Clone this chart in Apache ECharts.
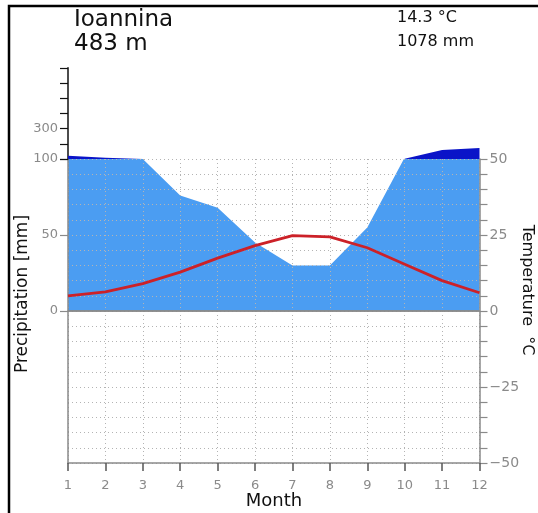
<!DOCTYPE html>
<html>
<head>
<meta charset="utf-8">
<script src="https://cdn.jsdelivr.net/npm/echarts@6/dist/echarts.min.js"></script>
<style>
  html, body { margin: 0; padding: 0; background: #fff; }
  #chart { width: 538px; height: 513px; }
</style>
</head>
<body>
<div id="chart"></div>
<script>
  // monthly values
  var months = [1, 2, 3, 4, 5, 6, 7, 8, 9, 10, 11, 12];
  var precip = [122, 109, 100, 76, 68, 45, 30, 30, 55, 101, 160, 172]; // mm
  var temp = [5.0, 6.3, 9.0, 12.8, 17.4, 21.5, 24.8, 24.4, 20.8, 15.4, 10.0, 6.0]; // °C
  var station = 'Ioannina';
  var altitude = '483 m';
  var meanTemp = '14.3 °C';
  var totalPrecip = '1078 mm';

  var lightBlue = '#4b9df2';
  var darkBlue = '#0a14c8';
  var grey = '#8a8a8a';
  var font = '"DejaVu Sans", sans-serif';

  // 100 mm = 50 °C, above 100 mm one unit = 20 mm
  function pScale(p) {
    return p <= 100 ? p / 2 : 50 + (p - 100) / 20;
  }

  var chart = echarts.init(document.getElementById('chart'), null, {renderer: 'canvas'});

  var gridL = 68, gridR = 58.5;

  chart.setOption({
    animation: false,
    grid: [
      {left: gridL, right: gridR, top: 159, bottom: 50},   // main
      {left: gridL, right: gridR, top: 159, bottom: 202},  // left labels 0..100 mm
      {left: gridL, right: gridR, top: 67.8, bottom: 354}  // above 100 mm
    ],
    xAxis: [
      {
        gridIndex: 0, type: 'value', min: 1, max: 12, interval: 1, position: 'bottom',
        axisLine: {onZero: false, lineStyle: {color: grey, width: 1.5}},
        axisTick: {length: 8, lineStyle: {color: '#555', width: 1.5}},
        axisLabel: {color: grey, fontSize: 13, fontFamily: font, margin: 16},
        splitLine: {show: true, lineStyle: {color: '#b4b4b4', type: [1, 3], width: 1}}
      },
      {
        gridIndex: 0, type: 'value', min: 1, max: 12, position: 'top',
        axisLine: {lineStyle: {color: grey, width: 1.5}},
        axisTick: {show: false}, axisLabel: {show: false}, splitLine: {show: false}
      },
      {gridIndex: 1, type: 'value', min: 1, max: 12, show: false},
      {gridIndex: 2, type: 'value', min: 1, max: 12, show: false}
    ],
    yAxis: [
      {
        gridIndex: 0, type: 'value', min: -50, max: 50, interval: 5, position: 'right',
        axisLine: {show: true, lineStyle: {color: grey, width: 1.5}},
        axisTick: {show: true, length: 8, lineStyle: {color: grey, width: 1.2}},
        axisLabel: {
          color: grey, fontSize: 14, fontFamily: font, margin: 10,
          formatter: function (v) {
            if (v % 25 !== 0) return '';
            return v < 0 ? '\u2212' + (-v) : String(v);
          }
        },
        splitLine: {show: true, lineStyle: {color: '#b4b4b4', type: [1, 3], width: 1}}
      },
      {
        gridIndex: 0, type: 'value', min: -50, max: 50, position: 'left',
        axisLine: {show: true, onZero: false, lineStyle: {color: grey, width: 1.5}},
        axisTick: {show: false}, axisLabel: {show: false}, splitLine: {show: false}
      },
      {
        gridIndex: 1, type: 'value', min: 0, max: 50, interval: 25, position: 'left',
        axisLine: {show: false},
        axisTick: {show: true, length: 8, lineStyle: {color: grey, width: 1.2}},
        axisLabel: {
          color: grey, fontSize: 13, fontFamily: font, margin: 10,
          formatter: function (v) { return v === 50 ? '' : String(v * 2); }
        },
        splitLine: {show: false}
      },
      {
        gridIndex: 2, type: 'value', min: 50, max: 80, interval: 5, position: 'left',
        axisLine: {show: true, onZero: false, lineStyle: {color: '#111', width: 1.5}},
        axisTick: {show: true, length: 8, lineStyle: {color: '#111', width: 1.2}},
        axisLabel: {
          color: grey, fontSize: 13, fontFamily: font, margin: 10,
          formatter: function (v) {
            if (v === 50) return '100';
            if (v === 60) return '300';
            return '';
          }
        },
        splitLine: {show: false}
      }
    ],
    series: [
      {
        name: 'precip',
        type: 'line',
        xAxisIndex: 0, yAxisIndex: 0,
        z: -1,
        clip: true,
        symbol: 'none',
        lineStyle: {width: 0},
        areaStyle: {color: lightBlue, opacity: 1},
        data: months.map(function (m, i) { return [m, precip[i] / 2]; }),
        markLine: {
          silent: true, symbol: 'none', label: {show: false},
          lineStyle: {color: grey, type: 'solid', width: 1.5},
          data: [{yAxis: 0}]
        }
      },
      {
        name: 'precip100',
        type: 'line',
        xAxisIndex: 3, yAxisIndex: 3,
        clip: true,
        symbol: 'none',
        lineStyle: {width: 0},
        areaStyle: {color: darkBlue, opacity: 1, origin: 'start'},
        data: months.map(function (m, i) { return [m, pScale(precip[i])]; })
      },
      {
        name: 'temp',
        type: 'line',
        xAxisIndex: 0, yAxisIndex: 0,
        z: 5,
        symbol: 'none',
        lineStyle: {color: '#cc2128', width: 2.8},
        data: months.map(function (m, i) { return [m, temp[i]]; })
      }
    ],
    graphic: [
      {
        type: 'rect', shape: {x: 9, y: 6, width: 700, height: 700},
        style: {fill: 'none', stroke: '#000', lineWidth: 2.5}, silent: true
      },
      {type: 'text', left: 74, top: 9, style: {text: station, font: '23px ' + font, fill: '#111'}},
      {type: 'text', left: 74, top: 33, style: {text: altitude, font: '23px ' + font, fill: '#111'}},
      {type: 'text', left: 397, top: 10, style: {text: meanTemp, font: '16px ' + font, fill: '#111'}},
      {type: 'text', left: 397, top: 34, style: {text: totalPrecip, font: '16px ' + font, fill: '#111'}},
      {
        type: 'text', x: 274, y: 501,
        style: {text: 'Month', font: '18px ' + font, fill: '#111', align: 'center', verticalAlign: 'middle'}
      },
      {
        type: 'text', x: 23, y: 294, rotation: Math.PI / 2,
        style: {text: 'Precipitation [mm]', font: '17px ' + font, fill: '#111', align: 'center', verticalAlign: 'middle'}
      },
      {
        type: 'text', x: 527, y: 290, rotation: -Math.PI / 2,
        style: {text: 'Temperature  °C', font: '16px ' + font, fill: '#111', align: 'center', verticalAlign: 'middle'}
      }
    ]
  });
</script>
</body>
</html>
